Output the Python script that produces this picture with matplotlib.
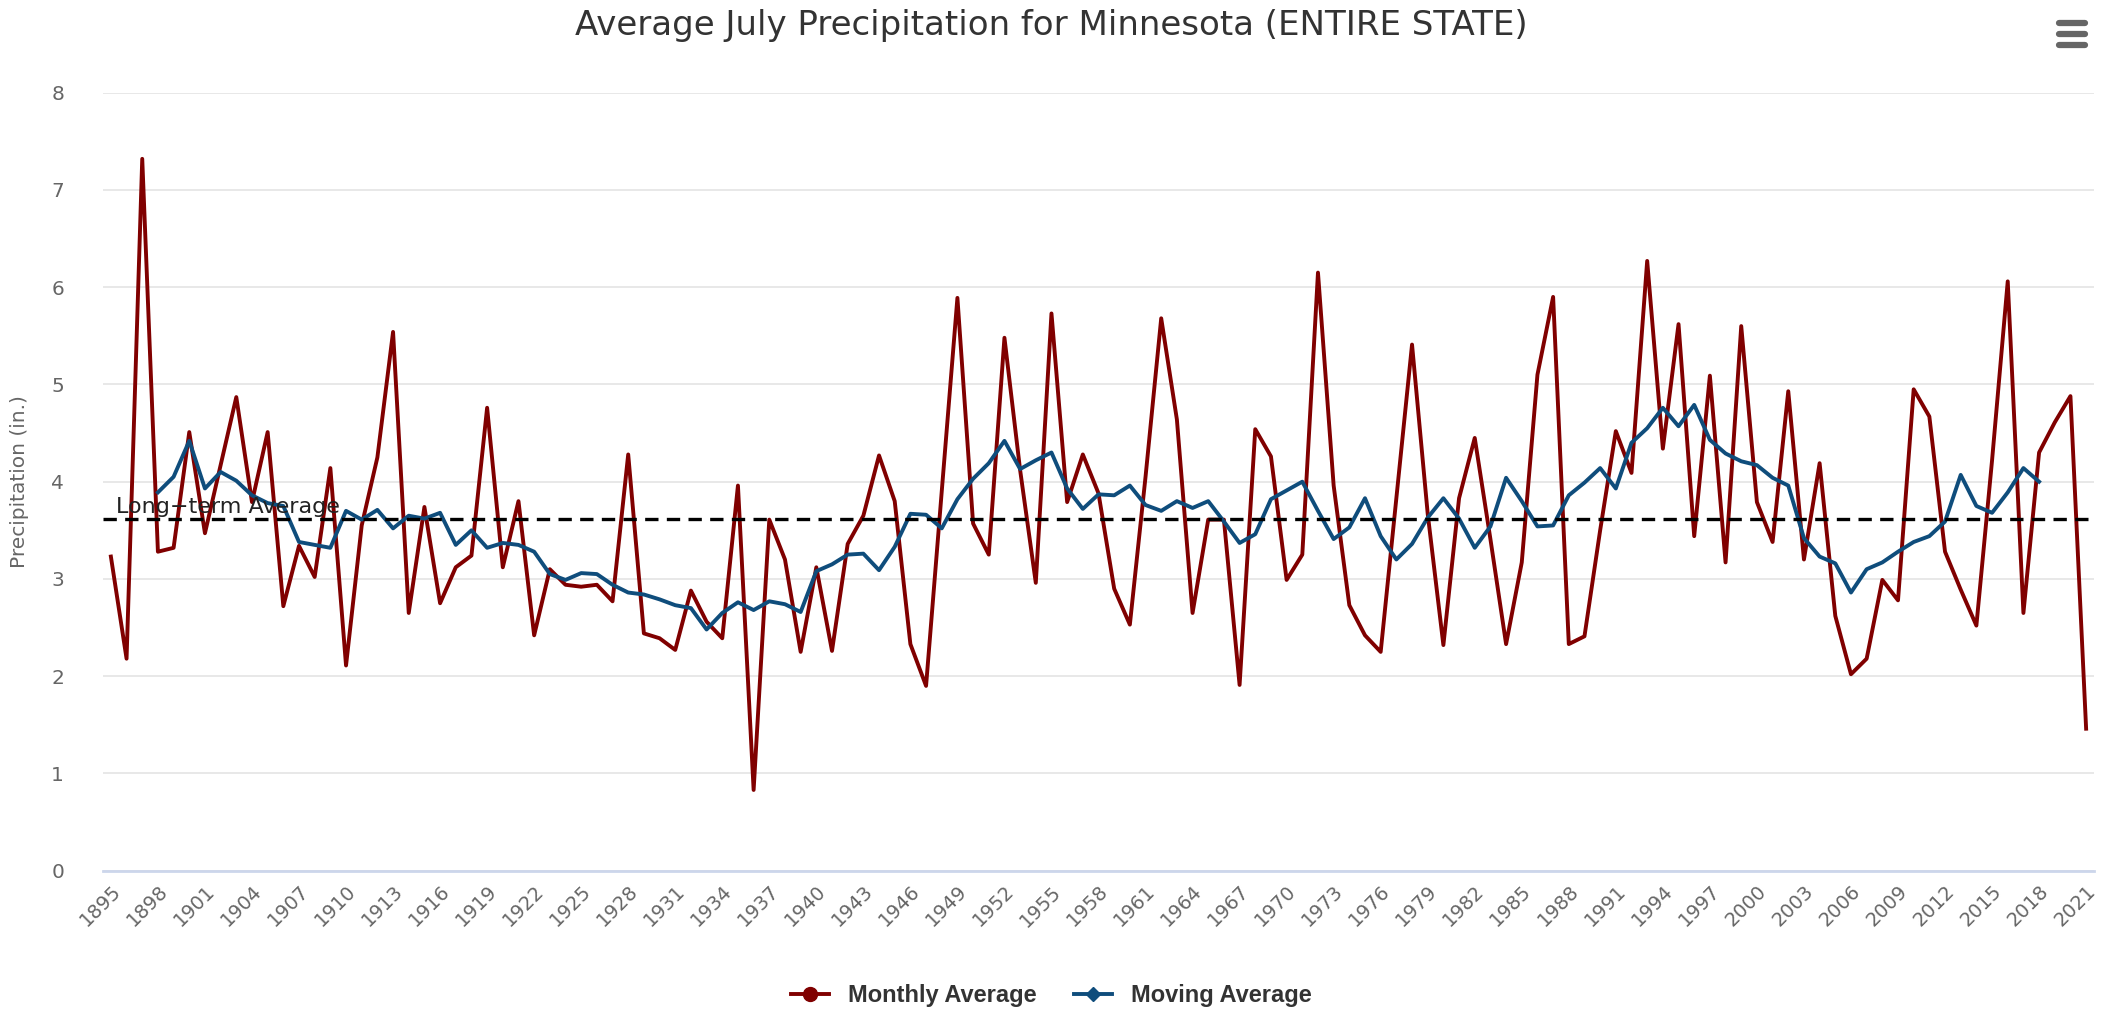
import matplotlib.pyplot as plt
from matplotlib.lines import Line2D

years = list(range(1895, 2022))

monthly = [3.23, 2.18, 7.32, 3.28, 3.32, 4.51, 3.47, 4.17, 4.87, 3.79,
           4.51, 2.72, 3.34, 3.02, 4.14, 2.11, 3.55, 4.25, 5.54, 2.65,
           3.74, 2.75, 3.12, 3.24, 4.76, 3.12, 3.80, 2.42, 3.10, 2.94,
           2.92, 2.94, 2.77, 4.28, 2.44, 2.39, 2.27, 2.88, 2.56, 2.39,
           3.96, 0.83, 3.61, 3.20, 2.25, 3.12, 2.26, 3.36, 3.65, 4.27,
           3.80, 2.33, 1.90, 3.90, 5.89, 3.57, 3.25, 5.48, 4.12, 2.96,
           5.73, 3.79, 4.28, 3.88, 2.90, 2.53, 4.05, 5.68, 4.64, 2.65,
           3.61, 3.61, 1.91, 4.54, 4.26, 2.99, 3.25, 6.15, 3.96, 2.73,
           2.42, 2.25, 3.83, 5.41, 3.67, 2.32, 3.83, 4.45, 3.41, 2.33,
           3.17, 5.10, 5.90, 2.33, 2.41, 3.50, 4.52, 4.09, 6.27, 4.34,
           5.62, 3.44, 5.09, 3.17, 5.60, 3.79, 3.38, 4.93, 3.20, 4.19,
           2.62, 2.02, 2.18, 2.99, 2.78, 4.95, 4.67, 3.28, 2.89, 2.52,
           4.22, 6.06, 2.65, 4.30, 4.61, 4.88, 1.46]

ma_years = list(range(1898, 2019))
moving = [3.89, 4.05, 4.42, 3.93, 4.10, 4.01, 3.86, 3.78, 3.75, 3.38,
          3.35, 3.32, 3.70, 3.61, 3.71, 3.52, 3.65, 3.62, 3.68, 3.35,
          3.50, 3.32, 3.37, 3.35, 3.28, 3.05, 2.99, 3.06, 3.05, 2.94,
          2.86, 2.84, 2.79, 2.73, 2.70, 2.48, 2.65, 2.76, 2.68, 2.77,
          2.74, 2.66, 3.08, 3.15, 3.25, 3.26, 3.09, 3.33, 3.67, 3.66,
          3.52, 3.82, 4.03, 4.19, 4.42, 4.13, 4.22, 4.30, 3.93, 3.72,
          3.87, 3.86, 3.96, 3.76, 3.70, 3.80, 3.73, 3.80, 3.59, 3.37,
          3.46, 3.82, 3.91, 4.00, 3.70, 3.41, 3.53, 3.83, 3.44, 3.20,
          3.36, 3.63, 3.83, 3.62, 3.32, 3.54, 4.04, 3.80, 3.54, 3.55,
          3.86, 3.99, 4.14, 3.93, 4.40, 4.55, 4.76, 4.57, 4.79, 4.43,
          4.29, 4.21, 4.17, 4.04, 3.96, 3.42, 3.23, 3.16, 2.86, 3.10,
          3.17, 3.28, 3.38, 3.44, 3.59, 4.07, 3.75, 3.68, 3.89, 4.14,
          4.00]

long_term = 3.62
tick_years = years[::3]

red = '#800000'
blue = '#0f4d7c'

fig = plt.figure(figsize=(21.03, 10.11), dpi=100)
ax = fig.add_axes([0.049, 0.1388, 0.9467, 0.7695])

ax.plot(years, monthly, color=red, lw=2.8, zorder=3)
ax.plot(ma_years, moving, color=blue, lw=2.8, zorder=4)
ax.axhline(long_term, color='black', lw=2.4, ls=(0, (4, 2.5)), zorder=5)
ax.text(1895.3, long_term + 0.02, 'Long\u2212term Average', fontsize=16,
        color='#222222', va='bottom', ha='left', zorder=6)

ax.set_xlim(1894.5, 2021.5)
ax.set_ylim(0, 8)
ax.set_yticks(range(0, 9))
ax.set_xticks(tick_years)
ax.set_xticklabels([str(y) for y in tick_years], rotation=45, ha='right',
                   rotation_mode='anchor', fontsize=14, color='#666666')
ax.tick_params(axis='y', length=0, labelsize=14.5, labelcolor='#666666', pad=28)
ax.tick_params(axis='x', length=0, pad=8)
ax.grid(axis='y', color='#e6e6e6', lw=1.3)
ax.set_axisbelow(True)
for s in ['top', 'right', 'left']:
    ax.spines[s].set_visible(False)
ax.spines['bottom'].set_color('#ccd6eb')
ax.spines['bottom'].set_linewidth(2)

ax.set_ylabel('Precipitation (in.)', fontsize=14.5, color='#666666', labelpad=16)
fig.text(0.5, 0.975, 'Average July Precipitation for Minnesota (ENTIRE STATE)',
         ha='center', va='center', fontsize=24.5, color='#333333')

handles = [Line2D([], [], color=red, lw=2.8, marker='o', markersize=10),
           Line2D([], [], color=blue, lw=2.8, marker='D', markersize=7.5)]
leg = fig.legend(handles, ['Monthly Average', 'Moving Average'], loc='center',
                 bbox_to_anchor=(0.5, 0.015), ncol=2, frameon=False,
                 handlelength=1.6, columnspacing=1.6,
                 prop={'family': ['Liberation Sans Narrow', 'Liberation Sans', 'DejaVu Sans'],
                       'weight': 'bold', 'size': 17})
for t in leg.get_texts():
    t.set_color('#333333')

# menu icon top right
for yy in [0.977, 0.966, 0.955]:
    fig.add_artist(Line2D([0.979, 0.9915], [yy, yy],
                          color='#666666', lw=4.5, solid_capstyle='round'))

fig.savefig('out.png', dpi=100)
